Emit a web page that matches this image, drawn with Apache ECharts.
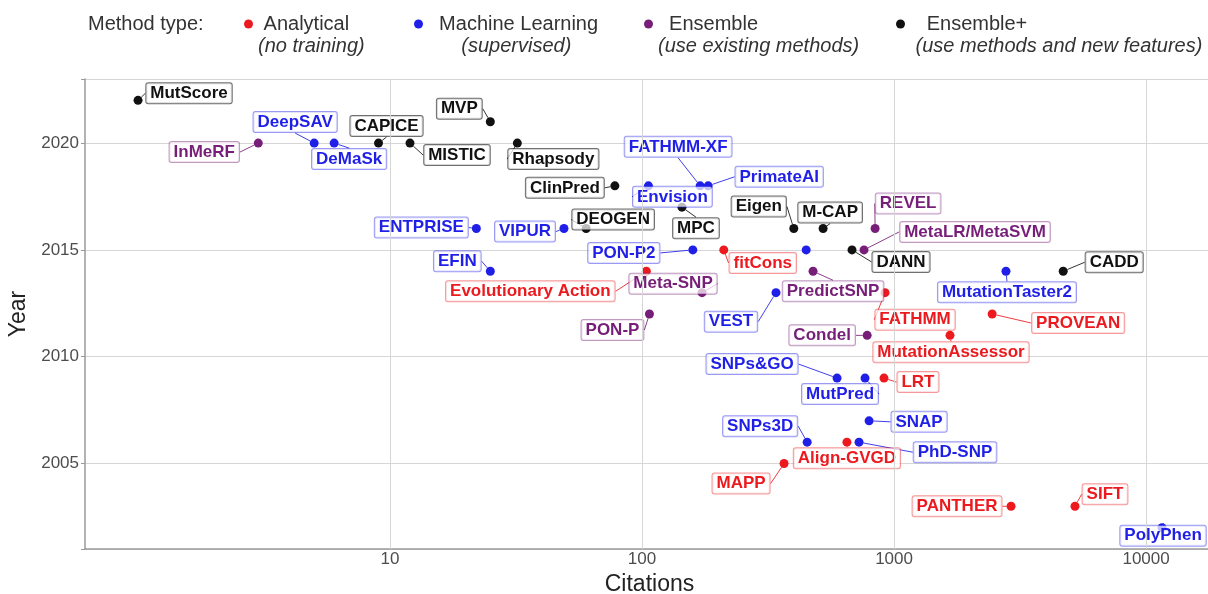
<!DOCTYPE html>
<html><head><meta charset="utf-8">
<script src="https://cdn.jsdelivr.net/npm/echarts@6/dist/echarts.min.js"></script>
<style>html,body{margin:0;padding:0;background:#fff}#c{width:1208px;height:594px}</style>
</head><body><div id="c"></div>
<script>
// ---------- data ----------
const methodTypes = ['Analytical', 'Machine Learning', 'Ensemble', 'Ensemble+'];
const methodSubtitles = ['(no training)', '(supervised)', '(use existing methods)', '(use methods and new features)'];
const methodNames = ['MutScore','InMeRF','DeepSAV','DeMaSk','CAPICE','MISTIC','MVP','Rhapsody','ClinPred','Envision',
  'FATHMM-XF','PrimateAI','MPC','DEOGEN','VIPUR','ENTPRISE','EFIN','Eigen','M-CAP','PON-P2',
  'fitCons','','DANN','MetaLR/MetaSVM','REVEL','MutationTaster2','CADD','FATHMM','PROVEAN','MutationAssessor',
  'Condel','PredictSNP','VEST','Meta-SNP','Evolutionary Action','PON-P','SNPs&GO','MutPred','LRT','SNAP',
  'SNPs3D','Align-GVGD','PhD-SNP','MAPP','PANTHER','SIFT','PolyPhen'];
const citations = [1,3,5,6,9,12,25,32,78,106,
  170,183,144,60,49,22,25,400,523,159,
  211,448,681,760,841,2780,4690,921,2450,1667,
  782,477,340,173,104,107,594,767,912,796,
  452,650,726,366,2912,5224,11570];
const years = [2022,2020,2020,2020,2020,2020,2021,2020,2018,2018,
  2018,2018,2017,2016,2016,2016,2014,2016,2016,2015,
  2015,2015,2015,2015,2016,2014,2014,2013,2012,2011,
  2011,2014,2013,2013,2014,2012,2009,2009,2009,2007,
  2006,2006,2006,2005,2003,2003,2002];
// 0 Analytical, 1 Machine Learning, 2 Ensemble, 3 Ensemble+
const methodType = [3,2,1,1,3,3,3,3,3,1,
  1,1,3,3,1,1,1,3,3,1,
  0,1,3,2,2,1,3,0,0,0,
  2,2,1,2,0,2,1,1,0,1,
  1,0,1,0,0,0,1];
const xTickValues = [10, 100, 1000, 10000];

// ---------- layout (label box offset from its point, px) ----------
const labelOffsets = [[51,-7],[-54,9],[-19,-21],[15,16],[8,-17],[47,12],[-31,-13],[36,16],[-50,2],[24,11],
  [-22,-39],[71,-9],[14,21],[27,-9],[-39,3],[-55,-1],[-33,-10],[-35,-22],[7,-16],[-69,3],
  [39,13],[0,0],[49,12],[111,-18],[33,-25],[1,21],[51,-9],[30,27],[86,9],[1,17],
  [-45,0],[20,20],[-45,29],[-29,-9],[-116,20],[-37,16],[-85,-14],[-25,16],[34,4],[50,1],
  [-47,-16],[0,16],[96,10],[-43,20],[-54,0],[30,-12],[1,8]];
const colors = ['#ec1a1f', '#1f1fe8', '#761e78', '#111111'];
const boxBorder = ['rgba(236,26,31,0.45)', 'rgba(31,31,232,0.45)', 'rgba(118,30,120,0.45)', 'rgba(17,17,17,0.6)'];
const FONT = '"Liberation Sans", Arial, Helvetica, sans-serif';

const indexBySeries = methodTypes.map((_, t) => methodNames.map((n, i) => i).filter(i => methodType[i] === t));

const series = methodTypes.map((m, t) => ({
  name: m,
  type: 'scatter',
  symbol: 'circle',
  symbolSize: 9,
  itemStyle: { color: colors[t], opacity: 1 },
  z: 3,
  data: indexBySeries[t].map(i => {
    const d = { name: methodNames[i], value: [citations[i], years[i]] };
    if (!methodNames[i]) d.label = { show: false };
    return d;
  }),
  label: {
    show: true,
    position: 'inside',
    formatter: '{b}',
    fontFamily: FONT,
    fontSize: 17,
    fontWeight: 'bold',
    lineHeight: 17,
    color: colors[t],
    backgroundColor: 'rgba(255,255,255,0.72)',
    borderColor: boxBorder[t],
    borderWidth: 1,
    borderRadius: 2,
    padding: [2, 4, 1, 4]
  },
  labelLine: { show: true, lineStyle: { color: colors[t], width: 1, opacity: 0.85 } },
  labelLayout: function (p) {
    const gi = indexBySeries[p.seriesIndex][p.dataIndex];
    const o = labelOffsets[gi];
    return { dx: o[0], dy: o[1] };
  },
  emphasis: { disabled: true }
}));

// vertical major gridlines at the labelled decades only
series[0].markLine = {
  silent: true, symbol: 'none', animation: false,
  label: { show: false },
  lineStyle: { color: '#d6d6d6', width: 1, type: 'solid' },
  emphasis: { disabled: true },
  data: xTickValues.map(v => ({ xAxis: v }))
};

const legendLefts = [244, 414, 644, 896];
const mainPad = [' ', '  ', '  ', '   '];
const subPad = ['', '      ', '', ' '];

const chart = echarts.init(document.getElementById('c'), null, { renderer: 'canvas' });
chart.setOption({
  animation: false,
  backgroundColor: '#ffffff',
  title: {
    text: 'Method type:', left: 88, top: 13, padding: 0,
    textStyle: { fontFamily: FONT, fontSize: 20, fontWeight: 'normal', color: '#333', lineHeight: 22 }
  },
  legend: methodTypes.map((m, t) => ({
    data: [m],
    left: legendLefts[t], top: -8, padding: 0,
    icon: 'circle', itemWidth: 9, itemHeight: 9,
    selectedMode: false,
    formatter: () => '{p| }\n{a|' + mainPad[t] + m + '}\n{b|' + subPad[t] + methodSubtitles[t] + '}',
    textStyle: {
      fontFamily: FONT,
      rich: {
        p: { fontSize: 20, lineHeight: 22, fontFamily: FONT },
        a: { fontSize: 20, lineHeight: 22, color: '#333', fontFamily: FONT },
        b: { fontSize: 20, lineHeight: 22, color: '#333', fontStyle: 'italic', fontFamily: FONT }
      }
    }
  })),
  grid: { left: 85, top: 79, width: 1129, height: 470, containLabel: false, outerBoundsMode: 'none' },
  xAxis: {
    type: 'log', logBase: 10, min: 0.616, max: 18600,
    name: 'Citations', nameLocation: 'middle', nameGap: 22,
    nameTextStyle: { fontFamily: FONT, fontSize: 23, color: '#222' },
    axisLine: { show: true, onZero: false, lineStyle: { color: '#9a9a9a', width: 1.5 } },
    axisTick: { show: false },
    splitLine: { show: false },
    axisLabel: {
      fontFamily: FONT, fontSize: 17, color: '#4d4d4d', margin: 2,
      formatter: v => (xTickValues.some(t => Math.abs(t - v) / t < 1e-6) ? String(Math.round(v)) : '')
    }
  },
  yAxis: {
    type: 'value', min: 2001, max: 2023,
    name: 'Year', nameLocation: 'middle', nameGap: 55,
    nameTextStyle: { fontFamily: FONT, fontSize: 23, color: '#222' },
    axisLine: { show: true, onZero: false, lineStyle: { color: '#9a9a9a', width: 1.5 } },
    axisTick: { show: true, length: 4, lineStyle: { color: '#9a9a9a' } },
    splitLine: { show: true, lineStyle: { color: '#d6d6d6', width: 1 } },
    axisLabel: {
      fontFamily: FONT, fontSize: 17, color: '#4d4d4d', margin: 6,
      formatter: v => (v % 5 === 0 ? String(v) : '')
    }
  },
  series: series
});
</script></body></html>
